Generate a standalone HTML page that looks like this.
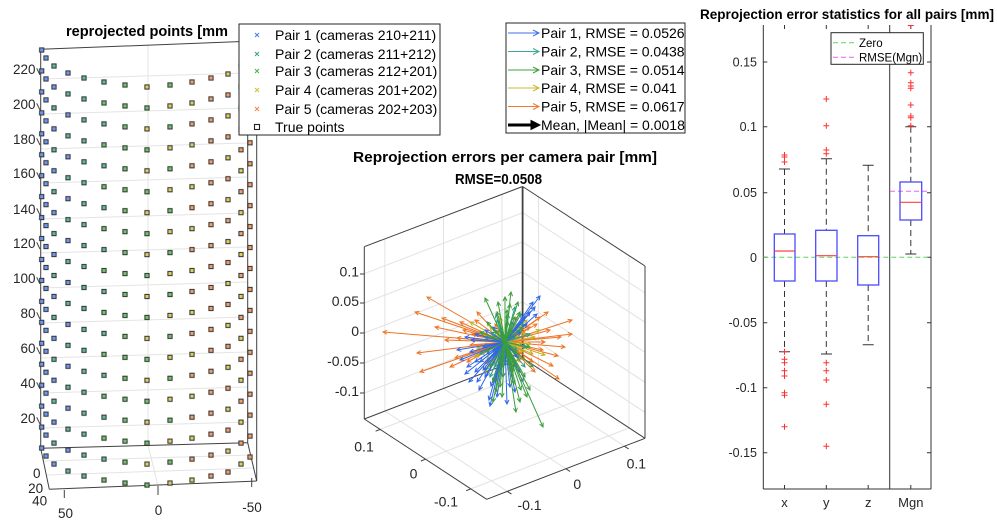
<!DOCTYPE html>
<html><head><meta charset="utf-8">
<style>
html,body{margin:0;padding:0;background:#fff;}
svg{display:block;}
</style></head>
<body>
<svg width="997" height="526" viewBox="0 0 997 526" xmlns="http://www.w3.org/2000/svg" font-family="'Liberation Sans', Arial, sans-serif">
<defs>
  <pattern id="pBB" patternUnits="userSpaceOnUse" width="8" height="41.9"><rect x="1.9" y="1.9" width="4.2" height="4.2" fill="#6f98f2" stroke="#303030"/><rect x="1.9" y="22.85" width="4.2" height="4.2" fill="#6f98f2" stroke="#303030"/></pattern>
  <pattern id="pTB" patternUnits="userSpaceOnUse" width="8" height="41.9"><rect x="1.9" y="1.9" width="4.2" height="4.2" fill="#5cb8a8" stroke="#303030"/><rect x="1.9" y="22.85" width="4.2" height="4.2" fill="#6f98f2" stroke="#303030"/></pattern>
  <pattern id="pBT" patternUnits="userSpaceOnUse" width="8" height="41.9"><rect x="1.9" y="1.9" width="4.2" height="4.2" fill="#6f98f2" stroke="#303030"/><rect x="1.9" y="22.85" width="4.2" height="4.2" fill="#5cb8a8" stroke="#303030"/></pattern>
  <pattern id="pTT" patternUnits="userSpaceOnUse" width="8" height="41.9"><rect x="1.9" y="1.9" width="4.2" height="4.2" fill="#5cb8a8" stroke="#303030"/><rect x="1.9" y="22.85" width="4.2" height="4.2" fill="#5cb8a8" stroke="#303030"/></pattern>
  <pattern id="pTG" patternUnits="userSpaceOnUse" width="8" height="41.9"><rect x="1.9" y="1.9" width="4.2" height="4.2" fill="#5cb8a8" stroke="#303030"/><rect x="1.9" y="22.85" width="4.2" height="4.2" fill="#6cc46c" stroke="#303030"/></pattern>
  <pattern id="pGG" patternUnits="userSpaceOnUse" width="8" height="41.9"><rect x="1.9" y="1.9" width="4.2" height="4.2" fill="#6cc46c" stroke="#303030"/><rect x="1.9" y="22.85" width="4.2" height="4.2" fill="#6cc46c" stroke="#303030"/></pattern>
  <pattern id="pYG" patternUnits="userSpaceOnUse" width="8" height="41.9"><rect x="1.9" y="1.9" width="4.2" height="4.2" fill="#dccf5a" stroke="#303030"/><rect x="1.9" y="22.85" width="4.2" height="4.2" fill="#6cc46c" stroke="#303030"/></pattern>
  <pattern id="pGY" patternUnits="userSpaceOnUse" width="8" height="41.9"><rect x="1.9" y="1.9" width="4.2" height="4.2" fill="#6cc46c" stroke="#303030"/><rect x="1.9" y="22.85" width="4.2" height="4.2" fill="#dccf5a" stroke="#303030"/></pattern>
  <pattern id="pOY" patternUnits="userSpaceOnUse" width="8" height="41.9"><rect x="1.9" y="1.9" width="4.2" height="4.2" fill="#f39e68" stroke="#303030"/><rect x="1.9" y="22.85" width="4.2" height="4.2" fill="#dccf5a" stroke="#303030"/></pattern>
  <pattern id="pOO" patternUnits="userSpaceOnUse" width="8" height="41.9"><rect x="1.9" y="1.9" width="4.2" height="4.2" fill="#f39e68" stroke="#303030"/><rect x="1.9" y="22.85" width="4.2" height="4.2" fill="#f39e68" stroke="#303030"/></pattern>
  <pattern id="pYO" patternUnits="userSpaceOnUse" width="8" height="41.9"><rect x="1.9" y="1.9" width="4.2" height="4.2" fill="#dccf5a" stroke="#303030"/><rect x="1.9" y="22.85" width="4.2" height="4.2" fill="#f39e68" stroke="#303030"/></pattern>

  <marker id="mB" markerUnits="userSpaceOnUse" markerWidth="8" markerHeight="8" refX="4" refY="2" orient="auto" overflow="visible"><path d="M0,0 L4,2 L0,4" fill="none" stroke="#2f66e8" stroke-width="1"/></marker>
  <marker id="mT" markerUnits="userSpaceOnUse" markerWidth="8" markerHeight="8" refX="4" refY="2" orient="auto" overflow="visible"><path d="M0,0 L4,2 L0,4" fill="none" stroke="#2a9d8a" stroke-width="1"/></marker>
  <marker id="mG" markerUnits="userSpaceOnUse" markerWidth="8" markerHeight="8" refX="4" refY="2" orient="auto" overflow="visible"><path d="M0,0 L4,2 L0,4" fill="none" stroke="#3a9e3a" stroke-width="1"/></marker>
  <marker id="mY" markerUnits="userSpaceOnUse" markerWidth="8" markerHeight="8" refX="4" refY="2" orient="auto" overflow="visible"><path d="M0,0 L4,2 L0,4" fill="none" stroke="#c4b020" stroke-width="1"/></marker>
  <marker id="mO" markerUnits="userSpaceOnUse" markerWidth="8" markerHeight="8" refX="4" refY="2" orient="auto" overflow="visible"><path d="M0,0 L4,2 L0,4" fill="none" stroke="#ee7325" stroke-width="1"/></marker>
</defs>
<rect width="997" height="526" fill="#fff"/>

<!-- ================= LEFT PLOT ================= -->
<g stroke="#e4e4e4" stroke-width="1" fill="none">
  <line x1="41" y1="79" x2="247" y2="73"/>
  <line x1="41" y1="114" x2="247" y2="108"/>
  <line x1="41" y1="149" x2="247" y2="143"/>
  <line x1="41" y1="183" x2="247" y2="177"/>
  <line x1="41" y1="219" x2="247" y2="213"/>
  <line x1="41" y1="253" x2="247" y2="247"/>
  <line x1="41" y1="288" x2="247" y2="282"/>
  <line x1="41" y1="323" x2="247" y2="317"/>
  <line x1="41" y1="358" x2="247" y2="352"/>
  <line x1="41" y1="393" x2="247" y2="387"/>
  <line x1="41" y1="428" x2="247" y2="422"/>
  <line x1="148" y1="45" x2="148" y2="445"/>
  <line x1="148" y1="445" x2="158" y2="486"/>
  <line x1="44" y1="461" x2="251" y2="455"/>
  <line x1="47" y1="475" x2="254" y2="468"/>
</g>
<g stroke="#404040" stroke-width="1" fill="none">
  <line x1="40.7" y1="49.3" x2="40.7" y2="448.3"/>
  <line x1="40.7" y1="49.3" x2="256" y2="41"/>
  <line x1="247.7" y1="42" x2="247.7" y2="442.7"/>
  <line x1="256.7" y1="41" x2="256.7" y2="481"/>
  <line x1="40.7" y1="448.3" x2="247.7" y2="442.7"/>
  <line x1="40.7" y1="448.3" x2="49.3" y2="489.3"/>
  <line x1="49.3" y1="489.3" x2="256.7" y2="481"/>
  <line x1="247.7" y1="442.7" x2="256.7" y2="481"/>
  <line x1="64.3" y1="490" x2="64.3" y2="498"/>
  <line x1="158" y1="486" x2="158" y2="495"/>
  <line x1="251.7" y1="478" x2="251.7" y2="487"/>
  <line x1="36.7" y1="68.3" x2="40" y2="75"/>
  <line x1="36.7" y1="103.3" x2="40" y2="110"/>
  <line x1="36.7" y1="138.3" x2="40" y2="145"/>
  <line x1="36.7" y1="172.3" x2="40" y2="179"/>
  <line x1="36.7" y1="208.3" x2="40" y2="215"/>
  <line x1="36.7" y1="242.3" x2="40" y2="249"/>
  <line x1="36.7" y1="277.3" x2="40" y2="284"/>
  <line x1="36.7" y1="312.3" x2="40" y2="319"/>
  <line x1="36.7" y1="347.3" x2="40" y2="354"/>
  <line x1="36.7" y1="382.3" x2="40" y2="389"/>
  <line x1="36.7" y1="417.3" x2="40" y2="424"/>
</g>
<g fill="#262626" font-size="13.5" text-anchor="end">
  <text x="35.5" y="74">220</text>
  <text x="35.5" y="109">200</text>
  <text x="35.5" y="144">180</text>
  <text x="35.5" y="178">160</text>
  <text x="35.5" y="214">140</text>
  <text x="35.5" y="248">120</text>
  <text x="35.5" y="283">100</text>
  <text x="35.5" y="318">80</text>
  <text x="35.5" y="353">60</text>
  <text x="35.5" y="388">40</text>
  <text x="35.5" y="423">20</text>
</g>
<g fill="#262626" font-size="13.5" text-anchor="middle">
  <text x="36.7" y="478">0</text>
  <text x="35.7" y="493">20</text>
  <text x="39.7" y="505.5">40</text>
  <text x="65.5" y="518">50</text>
  <text x="158.5" y="515">0</text>
  <text x="252" y="512">-50</text>
</g>
<g>
  <rect width="8" height="406" fill="url(#pBB)" transform="translate(37.7,46)"/>
  <rect width="8" height="406" fill="url(#pBB)" transform="translate(42,54)"/>
  <rect width="8" height="406" fill="url(#pTB)" transform="translate(50,62)"/>
  <rect width="8" height="406" fill="url(#pBT)" transform="translate(64,69)"/>
  <rect width="8" height="406" fill="url(#pTT)" transform="translate(80,74)"/>
  <rect width="8" height="406" fill="url(#pTG)" transform="translate(100,78)"/>
  <rect width="8" height="406" fill="url(#pGG)" transform="translate(121,81)"/>
  <rect width="8" height="406" fill="url(#pYG)" transform="translate(143,83)"/>
  <rect width="8" height="406" fill="url(#pGY)" transform="translate(166,81)"/>
  <rect width="8" height="406" fill="url(#pOY)" transform="translate(188,78)"/>
  <rect width="8" height="406" fill="url(#pOO)" transform="translate(207,74)"/>
  <rect width="8" height="406" fill="url(#pYO)" transform="translate(224,70)"/>
  <rect width="8" height="406" fill="url(#pOY)" transform="translate(237,62)"/>
  <rect width="8" height="406" fill="url(#pOO)" transform="translate(246,55)"/>
</g>
<text x="66" y="36" font-size="14.6" font-weight="bold" fill="#000" textLength="162" lengthAdjust="spacingAndGlyphs">reprojected points [mm</text>

<!-- Legend 1 -->
<rect x="239" y="24" width="201" height="111" fill="#fff" stroke="#262626" stroke-width="1"/>
<g stroke-width="1.1" fill="none">
  <path d="M255,33 l4,4 M259,33 l-4,4" stroke="#4f7ff0"/>
  <path d="M255,52 l4,4 M259,52 l-4,4" stroke="#3aa595"/>
  <path d="M255,69 l4,4 M259,69 l-4,4" stroke="#4cb84c"/>
  <path d="M255,88 l4,4 M259,88 l-4,4" stroke="#d2c23a"/>
  <path d="M255,107 l4,4 M259,107 l-4,4" stroke="#f08a4a"/>
  <rect x="254.5" y="124.5" width="5" height="5" stroke="#222"/>
</g>
<g fill="#000" font-size="14">
  <text x="275" y="40">Pair 1 (cameras 210+211)</text>
  <text x="275" y="59">Pair 2 (cameras 211+212)</text>
  <text x="275" y="76">Pair 3 (cameras 212+201)</text>
  <text x="275" y="95">Pair 4 (cameras 201+202)</text>
  <text x="275" y="114">Pair 5 (cameras 202+203)</text>
  <text x="275" y="132">True points</text>
</g>

<!-- ================= MIDDLE PLOT ================= -->
<text x="353" y="162" font-size="14.8" font-weight="bold" fill="#000" textLength="304" lengthAdjust="spacingAndGlyphs">Reprojection errors per camera pair [mm]</text>
<text x="455" y="184" font-size="14.5" font-weight="bold" fill="#000" textLength="87" lengthAdjust="spacingAndGlyphs">RMSE=0.0508</text>

<g stroke="#e2e2e2" stroke-width="1" fill="none">
  <line x1="364.3" y1="273.7" x2="522.6" y2="212.7"/>
  <line x1="364.3" y1="303" x2="522.6" y2="242"/>
  <line x1="364.3" y1="333" x2="522.6" y2="272"/>
  <line x1="364.3" y1="363" x2="522.6" y2="302"/>
  <line x1="364.3" y1="393" x2="522.6" y2="332"/>
  <line x1="522.6" y1="212.7" x2="645" y2="293"/>
  <line x1="522.6" y1="242" x2="645" y2="322.3"/>
  <line x1="522.6" y1="272" x2="645" y2="352.3"/>
  <line x1="522.6" y1="302" x2="645" y2="382.3"/>
  <line x1="522.6" y1="332" x2="645" y2="412.3"/>
  <line x1="384.9" y1="411" x2="384.9" y2="238.7"/>
  <line x1="443.5" y1="388.5" x2="443.5" y2="216.2"/>
  <line x1="502" y1="366" x2="502" y2="193.7"/>
  <line x1="538.5" y1="368.4" x2="538.5" y2="196.1"/>
  <line x1="583.8" y1="398" x2="583.8" y2="225.7"/>
  <line x1="629" y1="428" x2="629" y2="255.7"/>
  <line x1="380.2" y1="429.4" x2="538.5" y2="368.4"/>
  <line x1="425.5" y1="459.2" x2="583.8" y2="398"/>
  <line x1="470.8" y1="488.9" x2="629" y2="428"/>
  <line x1="384.9" y1="411" x2="507.3" y2="491.4"/>
  <line x1="443.5" y1="388.5" x2="565.9" y2="468.8"/>
  <line x1="502" y1="366" x2="624.4" y2="446.2"/>
</g>
<g stroke="#404040" stroke-width="1" fill="none">
  <line x1="364.3" y1="246.7" x2="364.3" y2="419"/>
  <line x1="645" y1="266" x2="645" y2="438.3"/>
  <line x1="364.3" y1="419" x2="486.7" y2="499.3"/>
  <line x1="486.7" y1="499.3" x2="645" y2="438.3"/>
  <line x1="364.3" y1="246.7" x2="522.6" y2="186.5"/>
  <line x1="522.6" y1="186.5" x2="645" y2="266"/>
  <line x1="364.3" y1="419" x2="522.6" y2="358"/>
  <line x1="522.6" y1="358" x2="645" y2="438.3"/>
  <line x1="522.6" y1="186.5" x2="522.6" y2="358" stroke-width="1.8"/>
  <line x1="360" y1="274" x2="364.3" y2="274"/>
  <line x1="360" y1="303" x2="364.3" y2="303"/>
  <line x1="360" y1="333" x2="364.3" y2="333"/>
  <line x1="360" y1="363" x2="364.3" y2="363"/>
  <line x1="360" y1="393" x2="364.3" y2="393"/>
  <line x1="380.2" y1="429.4" x2="375.6" y2="431.2"/>
  <line x1="425.5" y1="459.2" x2="420.9" y2="461"/>
  <line x1="470.8" y1="488.9" x2="466.2" y2="490.7"/>
  <line x1="507.3" y1="491.4" x2="511.5" y2="494.1"/>
  <line x1="565.9" y1="468.8" x2="570.1" y2="471.5"/>
  <line x1="624.4" y1="446.2" x2="628.6" y2="448.9"/>
</g>
<g fill="#262626" font-size="14" text-anchor="end">
  <text x="359" y="276.7">0.1</text>
  <text x="359" y="306">0.05</text>
  <text x="359" y="336">0</text>
  <text x="359" y="366">-0.05</text>
  <text x="359" y="396">-0.1</text>
</g>
<g fill="#262626" font-size="14" text-anchor="middle">
  <text x="364" y="451.7">0.1</text>
  <text x="413.5" y="478.3">0</text>
  <text x="446" y="506.7">-0.1</text>
  <text x="529.5" y="510">-0.1</text>
  <text x="577.3" y="489">0</text>
  <text x="636.3" y="468.3">0.1</text>
</g>

<g transform="translate(505,342)" fill="none" stroke-width="1">
 <g stroke="#ee7325" marker-end="url(#mO)">
  <line x2="-122" y2="-10"/><line x2="-78" y2="-45"/><line x2="-90" y2="-30"/><line x2="-88" y2="11"/><line x2="-85" y2="30"/>
  <line x2="-63" y2="-24"/><line x2="67" y2="-22"/><line x2="67" y2="-8"/><line x2="53" y2="14"/><line x2="54" y2="37"/>
  <line x2="43" y2="-30"/><line x2="-50" y2="16"/><line x2="-35" y2="3"/><line x2="-70" y2="-15"/><line x2="60" y2="5"/>
  <line x2="-55" y2="25"/><line x2="-42" y2="-12"/><line x2="-30" y2="-22"/><line x2="-25" y2="10"/><line x2="-48" y2="-4"/>
  <line x2="32" y2="-18"/><line x2="38" y2="8"/><line x2="28" y2="20"/><line x2="45" y2="-12"/><line x2="22" y2="-8"/>
  <line x2="-18" y2="-6"/><line x2="-12" y2="14"/><line x2="18" y2="4"/><line x2="-38" y2="20"/><line x2="-60" y2="-2"/>
  <line x2="35" y2="-25"/><line x2="48" y2="24"/><line x2="-28" y2="-30"/><line x2="25" y2="-15"/><line x2="40" y2="0"/>
  <line x2="-20" y2="22"/><line x2="15" y2="12"/><line x2="-45" y2="-20"/><line x2="30" y2="30"/><line x2="-10" y2="-18"/>
  <line x2="12" y2="-25"/><line x2="56" y2="-5"/><line x2="-33" y2="-8"/><line x2="20" y2="18"/><line x2="-15" y2="5"/>
 </g>
 <g stroke="#c4b020" marker-end="url(#mY)">
  <line x2="-35" y2="-20"/><line x2="25" y2="-30"/><line x2="40" y2="13"/><line x2="-20" y2="30"/><line x2="-25" y2="-8"/>
  <line x2="12" y2="-18"/><line x2="18" y2="10"/><line x2="-10" y2="22"/><line x2="30" y2="-5"/><line x2="-28" y2="6"/>
  <line x2="8" y2="25"/><line x2="-5" y2="-25"/><line x2="22" y2="-22"/><line x2="-15" y2="-15"/><line x2="15" y2="20"/>
  <line x2="-30" y2="15"/><line x2="28" y2="12"/><line x2="5" y2="-12"/><line x2="-12" y2="8"/><line x2="10" y2="5"/>
  <line x2="-8" y2="-10"/><line x2="20" y2="-10"/><line x2="-18" y2="18"/><line x2="35" y2="-12"/><line x2="0" y2="18"/>
  <line x2="-22" y2="-2"/><line x2="14" y2="-6"/><line x2="6" y2="30"/><line x2="-6" y2="14"/><line x2="26" y2="2"/>
 </g>
 <g stroke="#2a9d8a" marker-end="url(#mT)">
  <line x2="10" y2="-35"/><line x2="-15" y2="35"/><line x2="20" y2="25"/><line x2="-8" y2="-22"/><line x2="5" y2="18"/>
  <line x2="-12" y2="10"/><line x2="15" y2="-12"/><line x2="-20" y2="-5"/><line x2="8" y2="28"/><line x2="12" y2="8"/>
  <line x2="-5" y2="-15"/><line x2="18" y2="-20"/><line x2="-18" y2="20"/><line x2="3" y2="-28"/><line x2="-10" y2="25"/>
  <line x2="22" y2="5"/><line x2="-25" y2="12"/><line x2="6" y2="-8"/><line x2="-6" y2="6"/><line x2="14" y2="16"/>
  <line x2="-14" y2="-10"/><line x2="0" y2="22"/><line x2="10" y2="-5"/><line x2="-3" y2="12"/><line x2="25" y2="-8"/>
  <line x2="-20" y2="28"/><line x2="7" y2="35"/><line x2="16" y2="-28"/><line x2="-9" y2="-28"/><line x2="4" y2="10"/>
 </g>
 <g stroke="#2f66e8" marker-end="url(#mB)">
  <line x2="-15" y2="64"/><line x2="28" y2="-40"/><line x2="-30" y2="30"/><line x2="35" y2="-46"/><line x2="-45" y2="18"/>
  <line x2="-40" y2="-5"/><line x2="10" y2="50"/><line x2="-25" y2="20"/><line x2="-20" y2="35"/><line x2="-35" y2="10"/>
  <line x2="-10" y2="40"/><line x2="-30" y2="-8"/><line x2="-5" y2="28"/><line x2="15" y2="30"/><line x2="-18" y2="12"/>
  <line x2="-38" y2="25"/><line x2="-12" y2="-15"/><line x2="20" y2="-25"/><line x2="25" y2="-30"/><line x2="30" y2="-35"/>
  <line x2="-28" y2="40"/><line x2="-8" y2="55"/><line x2="5" y2="45"/><line x2="-40" y2="32"/><line x2="-22" y2="5"/>
  <line x2="-15" y2="25"/><line x2="12" y2="15"/><line x2="-30" y2="20"/><line x2="22" y2="-18"/><line x2="8" y2="-20"/>
  <line x2="-6" y2="18"/><line x2="-20" y2="-12"/><line x2="-48" y2="8"/><line x2="18" y2="40"/><line x2="-2" y2="35"/>
  <line x2="-26" y2="48"/><line x2="10" y2="25"/><line x2="-14" y2="44"/><line x2="32" y2="-28"/><line x2="-34" y2="-2"/>
  <line x2="-10" y2="12"/><line x2="6" y2="8"/><line x2="-22" y2="28"/><line x2="-4" y2="-10"/><line x2="16" y2="-10"/>
  <line x2="-16" y2="58"/><line x2="-36" y2="40"/><line x2="2" y2="62"/>
 </g>
 <g stroke="#3a9e3a" marker-end="url(#mG)">
  <line x2="38" y2="85"/><line x2="-20" y2="-44"/><line x2="13" y2="-40"/><line x2="25" y2="48"/><line x2="-5" y2="45"/>
  <line x2="5" y2="-38"/><line x2="-8" y2="-30"/><line x2="8" y2="30"/><line x2="-3" y2="55"/><line x2="15" y2="60"/>
  <line x2="-12" y2="40"/><line x2="10" y2="-25"/><line x2="0" y2="-45"/><line x2="20" y2="35"/><line x2="-15" y2="25"/>
  <line x2="3" y2="-20"/><line x2="-6" y2="20"/><line x2="12" y2="12"/><line x2="-10" y2="-12"/><line x2="6" y2="-50"/>
  <line x2="18" y2="-15"/><line x2="-18" y2="-20"/><line x2="-2" y2="35"/><line x2="22" y2="55"/><line x2="-12" y2="60"/>
  <line x2="9" y2="42"/><line x2="-4" y2="-8"/><line x2="4" y2="15"/><line x2="-20" y2="10"/><line x2="15" y2="-30"/>
  <line x2="28" y2="25"/><line x2="-9" y2="50"/><line x2="2" y2="-32"/><line x2="11" y2="70"/><line x2="-7" y2="-40"/>
  <line x2="16" y2="48"/><line x2="-14" y2="-5"/><line x2="7" y2="-12"/><line x2="25" y2="5"/><line x2="-25" y2="-10"/>
 </g>
</g>

<!-- Legend 2 -->
<rect x="506" y="23" width="179" height="110" fill="#fff" stroke="#262626" stroke-width="1"/>
<g fill="none" stroke-width="1">
  <path d="M508,33 H539 M533,30 L539,33 L533,36" stroke="#3f72ea"/>
  <path d="M508,51.5 H539 M533,48.5 L539,51.5 L533,54.5" stroke="#3aa890"/>
  <path d="M508,70 H539 M533,67 L539,70 L533,73" stroke="#3fa03f"/>
  <path d="M508,88 H539 M533,85 L539,88 L533,91" stroke="#c8b830"/>
  <path d="M508,106.5 H539 M533,103.5 L539,106.5 L533,109.5" stroke="#ee7a30"/>
  <path d="M508,125 H532" stroke="#000" stroke-width="3"/>
  <path d="M531,120.5 L540,125 L531,129.5 Z" fill="#000" stroke="#000"/>
</g>
<g fill="#000" font-size="14">
  <text x="541" y="38">Pair 1, RMSE = 0.0526</text>
  <text x="541" y="56.5">Pair 2, RMSE = 0.0438</text>
  <text x="541" y="75">Pair 3, RMSE = 0.0514</text>
  <text x="541" y="93">Pair 4, RMSE = 0.041</text>
  <text x="541" y="111.5">Pair 5, RMSE = 0.0617</text>
  <text x="541" y="130">Mean, |Mean| = 0.0018</text>
</g>

<!-- ================= RIGHT PLOT ================= -->
<text x="700" y="19" font-size="13.5" font-weight="bold" fill="#000" textLength="294" lengthAdjust="spacingAndGlyphs">Reprojection error statistics for all pairs [mm]</text>
<g stroke="#333" stroke-width="1" fill="none">
  <line x1="763.3" y1="25" x2="763.3" y2="489"/>
  <line x1="931" y1="25" x2="931" y2="489"/>
  <line x1="763.3" y1="489" x2="931" y2="489"/>
  <line x1="889.7" y1="25" x2="889.7" y2="489"/>
  <path d="M763.3,62 h4 M763.3,126.7 h4 M763.3,192.7 h4 M763.3,257.3 h4 M763.3,322.7 h4 M763.3,387.7 h4 M763.3,452.7 h4"/>
  <path d="M931,62 h-4 M931,126.7 h-4 M931,192.7 h-4 M931,257.3 h-4 M931,322.7 h-4 M931,387.7 h-4 M931,452.7 h-4"/>
  <path d="M784.5,25 v4 M826.3,25 v4 M868.2,25 v4 M910.8,25 v4"/>
  <path d="M784.5,489 v-4 M826.3,489 v-4 M868.2,489 v-4 M910.8,489 v-4"/>
</g>
<g fill="#262626" font-size="12.5" text-anchor="end">
  <text x="757" y="66.5">0.15</text>
  <text x="757" y="131.2">0.1</text>
  <text x="757" y="197.2">0.05</text>
  <text x="757" y="261.8">0</text>
  <text x="757" y="327.2">-0.05</text>
  <text x="757" y="392.2">-0.1</text>
  <text x="757" y="457.2">-0.15</text>
</g>
<g fill="#262626" font-size="13" text-anchor="middle">
  <text x="784.5" y="507">x</text>
  <text x="826.3" y="507">y</text>
  <text x="868.2" y="507">z</text>
  <text x="910.8" y="507">Mgn</text>
</g>
<g stroke="#333" stroke-width="1" fill="none">
  <g stroke-dasharray="6,4">
    <line x1="784.5" y1="169" x2="784.5" y2="234"/>
    <line x1="784.5" y1="281" x2="784.5" y2="351.7"/>
    <line x1="826.3" y1="158.7" x2="826.3" y2="230.3"/>
    <line x1="826.3" y1="281" x2="826.3" y2="354"/>
    <line x1="868.2" y1="165.3" x2="868.2" y2="235.7"/>
    <line x1="868.2" y1="285" x2="868.2" y2="344.7"/>
    <line x1="910.8" y1="126.7" x2="910.8" y2="182"/>
    <line x1="910.8" y1="220" x2="910.8" y2="254"/>
  </g>
  <path d="M779,169 h11 M779,351.7 h11 M821,158.7 h11 M821,354 h11 M862.7,165.3 h11 M862.7,344.7 h11 M905.3,126.7 h11 M905.3,254 h11"/>
</g>
<line x1="763.3" y1="257.3" x2="931" y2="257.3" stroke="#5fd35f" stroke-width="1" stroke-dasharray="5,3"/>
<line x1="890" y1="191.3" x2="931" y2="191.3" stroke="#f060f0" stroke-width="1" stroke-dasharray="5,3"/>
<g stroke="#4a4aff" stroke-width="1.3" fill="none">
  <rect x="774.3" y="234" width="20.7" height="47"/>
  <rect x="815.7" y="230.3" width="21.3" height="50.7"/>
  <rect x="857.7" y="235.7" width="21" height="49.3"/>
  <rect x="900" y="182" width="21.7" height="38"/>
</g>
<g stroke="#ff4040" stroke-width="1.2">
  <line x1="774.3" y1="251" x2="795" y2="251"/>
  <line x1="815.7" y1="255.7" x2="837" y2="255.7"/>
  <line x1="857.7" y1="256.7" x2="878.7" y2="256.7"/>
  <line x1="900" y1="202.3" x2="921.7" y2="202.3"/>
</g>
<g stroke="#ff3030" stroke-width="1" fill="none">
  <path d="M781.5,155 h6 M784.5,152 v6 M781.5,157 h6 M784.5,154 v6 M781.5,162 h6 M784.5,159 v6 M781.5,351.7 h6 M784.5,348.7 v6 M781.5,359.3 h6 M784.5,356.3 v6 M781.5,362.7 h6 M784.5,359.7 v6 M781.5,370.7 h6 M784.5,367.7 v6 M781.5,376 h6 M784.5,373 v6 M781.5,392.7 h6 M784.5,389.7 v6 M781.5,395.3 h6 M784.5,392.3 v6 M781.5,426.7 h6 M784.5,423.7 v6"/>
  <path d="M823.3,99 h6 M826.3,96 v6 M823.3,125.7 h6 M826.3,122.7 v6 M823.3,150 h6 M826.3,147 v6 M823.3,153.7 h6 M826.3,150.7 v6 M823.3,362.7 h6 M826.3,359.7 v6 M823.3,370.7 h6 M826.3,367.7 v6 M823.3,380 h6 M826.3,377 v6 M823.3,404.3 h6 M826.3,401.3 v6 M823.3,446.3 h6 M826.3,443.3 v6"/>
  <path d="M907.8,25.5 h6 M910.8,25 v3.5 M907.8,72.7 h6 M910.8,69.7 v6 M907.8,82.7 h6 M910.8,79.7 v6 M907.8,86 h6 M910.8,83 v6 M907.8,88.3 h6 M910.8,85.3 v6 M907.8,105 h6 M910.8,102 v6 M907.8,116 h6 M910.8,113 v6 M907.8,117.7 h6 M910.8,114.7 v6 M907.8,125.7 h6 M910.8,122.7 v6"/>
</g>

<rect x="831" y="32.7" width="92.3" height="31.6" fill="#fff" stroke="#262626" stroke-width="1"/>
<line x1="833" y1="42.7" x2="857" y2="42.7" stroke="#5fd35f" stroke-width="1" stroke-dasharray="5,3"/>
<line x1="833" y1="57.3" x2="857" y2="57.3" stroke="#f060f0" stroke-width="1" stroke-dasharray="5,3"/>
<g fill="#000" font-size="11.5">
  <text x="859" y="47">Zero</text>
  <text x="859" y="61.5">RMSE(Mgn)</text>
</g>
</svg>
</body></html>
